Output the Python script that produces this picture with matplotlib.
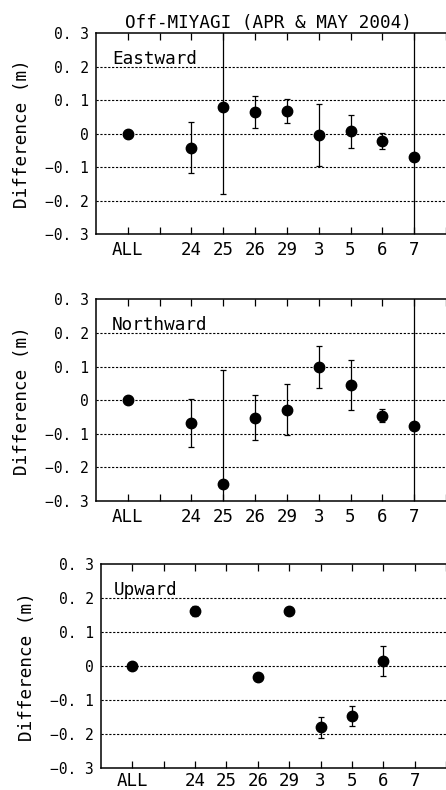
import numpy as np
import matplotlib
matplotlib.use("Agg")
import matplotlib.pyplot as plt

plt.rcParams['font.family'] = ['DejaVu Sans Mono']

categories = ["ALL", "", "24", "25", "26", "29", "3", "5", "6", "7", ""]
nan = np.nan
east_val = [0.0, nan, -0.041, 0.080, 0.065, 0.068, -0.003, 0.007, -0.022, -0.070, nan]
east_err = [0.0, nan, 0.076, 0.260, 0.047, 0.036, 0.092, 0.049, 0.024, 0.500, nan]
north_val = [0.0, nan, -0.068, -0.249, -0.052, -0.028, 0.099, 0.046, -0.046, -0.076, nan]
north_err = [0.0, nan, 0.070, 0.338, 0.067, 0.075, 0.062, 0.074, 0.020, 0.500, nan]
up_val = [0.0, nan, 0.162, nan, -0.032, 0.162, -0.180, -0.147, 0.016, nan, nan]
up_err = [0.0, nan, 0.015, nan, 0.0, 0.0, 0.032, 0.029, 0.044, nan, nan]
panel_names = ["Eastward", "Northward", "Upward"]
yticks = [-0.3, -0.2, -0.1, 0.0, 0.1, 0.2, 0.3]
ytick_labels = ["\u22120. 3", "\u22120. 2", "\u22120. 1", "0", "0. 1", "0. 2", "0. 3"]
title = "Off-MIYAGI (APR & MAY 2004)"

W, H = 446, 790
fig = plt.figure(figsize=(W / 100, H / 100), dpi=100)

# (left px, top px, bottom px, px per category)
panels = [(96, 33.3, 234.3, 32.0), (96, 299.3, 501.0, 32.0), (101, 564.0, 768.3, 31.9)]
vals = [east_val, north_val, up_val]
errs = [east_err, north_err, up_err]

x = np.arange(1, len(categories) + 1)
for i, (lpx, tpx, bpx, step) in enumerate(panels):
    ax = fig.add_axes([lpx / W, (H - bpx) / H, 1 - lpx / W, (bpx - tpx) / H])
    ax.set_xlim(0, (W - lpx) / step)
    ax.set_ylim(-0.3, 0.3)
    for yv in yticks[1:-1]:
        ax.axhline(yv, color='black', lw=0.8, ls=(0, (2, 1.5)), zorder=1)
    ax.errorbar(x, vals[i], yerr=errs[i], fmt='o', color='black', ms=7.5,
                ecolor='black', elinewidth=0.9, capsize=2.4, capthick=0.9, zorder=3)
    ax.set_xticks(x)
    ax.set_xticklabels(categories, fontsize=12.5)
    ax.set_yticks(yticks)
    ax.set_yticklabels(ytick_labels, fontsize=10.5)
    ax.tick_params(axis='x', which='both', direction='in', top=True, bottom=True,
                   length=5, width=0.9, pad=5 if i < 2 else 3)
    ax.tick_params(axis='y', length=0, pad=5)
    ax.spines['right'].set_visible(False)
    for s in ['top', 'bottom', 'left']:
        ax.spines[s].set_linewidth(1.1)
    ax.set_ylabel("Difference (m)", fontsize=12.7, labelpad=10)
    ax.text((112 - lpx) / (W - lpx) if i < 2 else (114 - lpx) / (W - lpx), 0.849,
            panel_names[i], transform=ax.transAxes, fontsize=12.7, va='baseline', ha='left')
    if i == 0:
        ax.set_title(title, fontsize=12.7, pad=4, x=(268 - lpx) / (W - lpx))

fig.savefig("out.png", dpi=100)
